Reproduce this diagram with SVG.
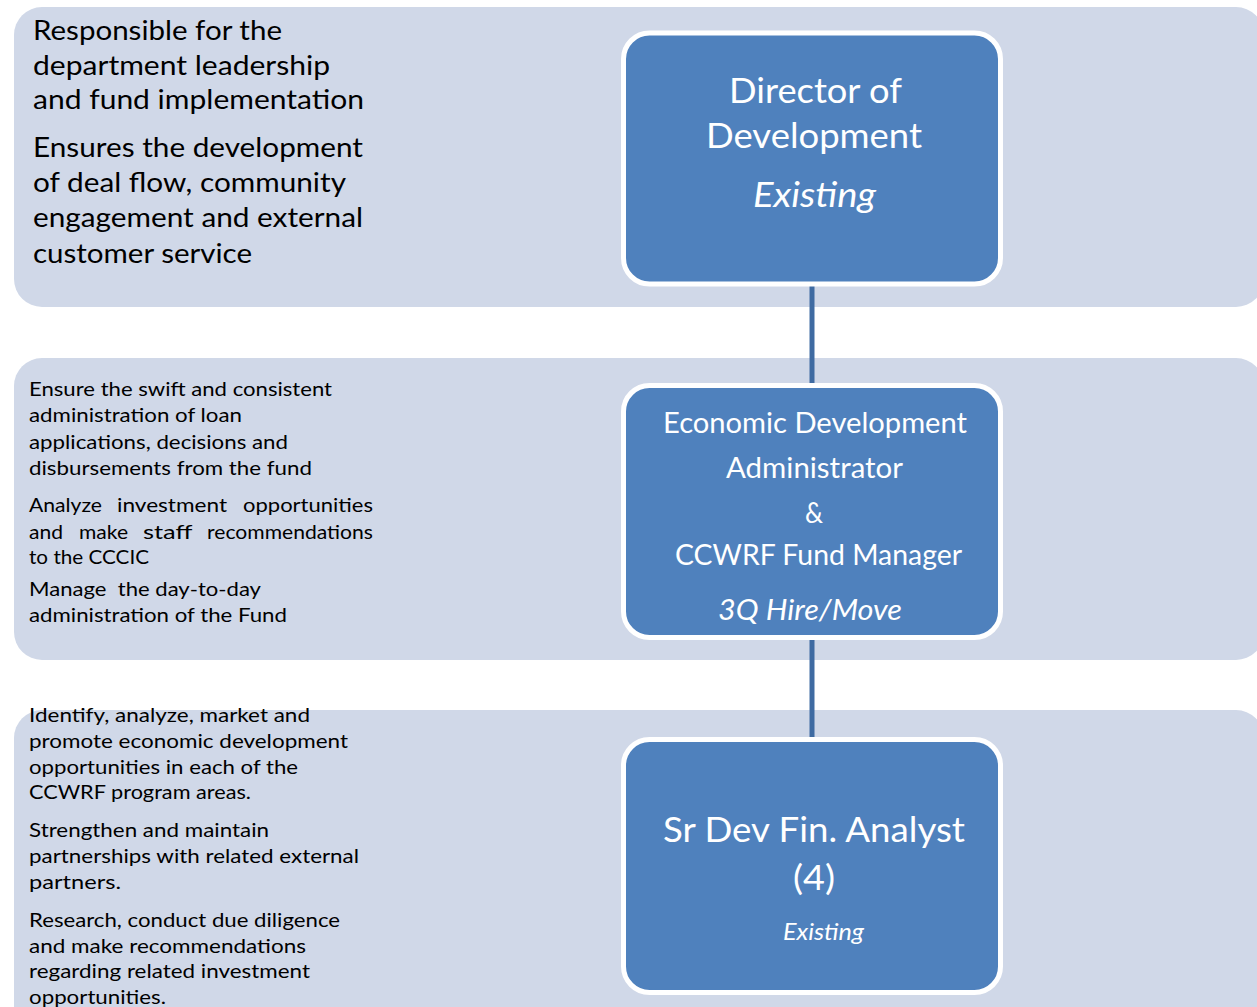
<svg xmlns="http://www.w3.org/2000/svg" width="1257" height="1007" viewBox="0 0 1257 1007">
<style>
.band{fill:#D0D8E8}
.box{fill:#4F81BD;stroke:#FFFFFF;stroke-width:5}
.conn{stroke:#3F6BA2;stroke-width:5;fill:none}
text{font-family:Lato,"Liberation Sans",sans-serif}
.d1{font-size:26px;fill:#000}
.d2{font-size:19px;fill:#000}
.w{fill:#FFFFFF;text-anchor:middle}
.big{font-size:35px}
.mid{font-size:28px}
.sm{font-size:23px}
.it{font-style:italic}
</style>
<rect class="band" x="14" y="7" width="1250" height="300" rx="28"/>
<rect class="band" x="14" y="358" width="1250" height="302" rx="28"/>
<rect class="band" x="14" y="710" width="1250" height="330" rx="28"/>
<g id="connectors">
<line class="conn" x1="812" y1="285" x2="812" y2="385"/>
<line class="conn" x1="812" y1="638" x2="812" y2="739"/>
</g>
<g id="desc1">
<text class="d1" x="33" y="40" textLength="249" lengthAdjust="spacingAndGlyphs">Responsible for the</text>
<text class="d1" x="33" y="75" textLength="297" lengthAdjust="spacingAndGlyphs">department leadership</text>
<text class="d1" x="33" y="109" textLength="331" lengthAdjust="spacingAndGlyphs">and fund implementation</text>
<text class="d1" x="33" y="157" textLength="330" lengthAdjust="spacingAndGlyphs">Ensures the development</text>
<text class="d1" x="33" y="192" textLength="313" lengthAdjust="spacingAndGlyphs">of deal flow, community</text>
<text class="d1" x="33" y="227" textLength="330" lengthAdjust="spacingAndGlyphs">engagement and external</text>
<text class="d1" x="33" y="263" textLength="219" lengthAdjust="spacingAndGlyphs">customer service</text>
</g>
<g id="desc2">
<text class="d2" x="29" y="396" textLength="303" lengthAdjust="spacingAndGlyphs">Ensure the swift and consistent</text>
<text class="d2" x="29" y="422" textLength="213" lengthAdjust="spacingAndGlyphs">administration of loan</text>
<text class="d2" x="29" y="449" textLength="259" lengthAdjust="spacingAndGlyphs">applications, decisions and</text>
<text class="d2" x="29" y="475" textLength="283" lengthAdjust="spacingAndGlyphs">disbursements from the fund</text>
<text class="d2" y="512"><tspan x="29" textLength="73" lengthAdjust="spacingAndGlyphs">Analyze</tspan> <tspan x="117" textLength="110" lengthAdjust="spacingAndGlyphs">investment</tspan> <tspan x="243" textLength="130" lengthAdjust="spacingAndGlyphs">opportunities</tspan></text>
<text class="d2" y="539"><tspan x="29" textLength="34" lengthAdjust="spacingAndGlyphs">and</tspan> <tspan x="79" textLength="49" lengthAdjust="spacingAndGlyphs">make</tspan> <tspan x="143" textLength="49" lengthAdjust="spacingAndGlyphs">staff</tspan> <tspan x="207" textLength="166" lengthAdjust="spacingAndGlyphs">recommendations</tspan></text>
<text class="d2" x="29" y="564" textLength="120" lengthAdjust="spacingAndGlyphs">to the CCCIC</text>
<text class="d2" x="29" y="596" textLength="232" lengthAdjust="spacingAndGlyphs" xml:space="preserve">Manage  the day-to-day</text>
<text class="d2" x="29" y="622" textLength="258" lengthAdjust="spacingAndGlyphs">administration of the Fund</text>
</g>
<g id="desc3">
<text class="d2" x="29" y="722" textLength="281" lengthAdjust="spacingAndGlyphs">Identify, analyze, market and</text>
<text class="d2" x="29" y="748" textLength="319" lengthAdjust="spacingAndGlyphs">promote economic development</text>
<text class="d2" x="29" y="774" textLength="269" lengthAdjust="spacingAndGlyphs">opportunities in each of the</text>
<text class="d2" x="29" y="799" textLength="222" lengthAdjust="spacingAndGlyphs">CCWRF program areas.</text>
<text class="d2" x="29" y="837" textLength="240" lengthAdjust="spacingAndGlyphs">Strengthen and maintain</text>
<text class="d2" x="29" y="863" textLength="330" lengthAdjust="spacingAndGlyphs">partnerships with related external</text>
<text class="d2" x="29" y="889" textLength="92" lengthAdjust="spacingAndGlyphs">partners.</text>
<text class="d2" x="29" y="927" textLength="311" lengthAdjust="spacingAndGlyphs">Research, conduct due diligence</text>
<text class="d2" x="29" y="953" textLength="277" lengthAdjust="spacingAndGlyphs">and make recommendations</text>
<text class="d2" x="29" y="978" textLength="281" lengthAdjust="spacingAndGlyphs">regarding related investment</text>
<text class="d2" x="29" y="1004" textLength="137" lengthAdjust="spacingAndGlyphs">opportunities.</text>
</g>
<g id="director">
<rect class="box" x="623.5" y="33" width="377" height="251" rx="26"/>
<text class="w big" x="815.5" y="103" textLength="173" lengthAdjust="spacingAndGlyphs">Director of</text>
<text class="w big" x="814" y="148" textLength="216" lengthAdjust="spacingAndGlyphs">Development</text>
<text class="w big it" x="814.5" y="207" textLength="123" lengthAdjust="spacingAndGlyphs">Existing</text>
</g>
<g id="administrator">
<rect class="box" x="623.5" y="385.5" width="377" height="252" rx="26"/>
<text class="w mid" x="815" y="433" textLength="304" lengthAdjust="spacingAndGlyphs">Economic Development</text>
<text class="w mid" x="814.5" y="478" textLength="177" lengthAdjust="spacingAndGlyphs">Administrator</text>
<text class="w mid" x="814" y="523" textLength="18" lengthAdjust="spacingAndGlyphs">&amp;</text>
<text class="w mid" x="818.5" y="565" textLength="287" lengthAdjust="spacingAndGlyphs">CCWRF Fund Manager</text>
<text class="w mid it" x="810" y="620" textLength="184" lengthAdjust="spacingAndGlyphs">3Q Hire/Move</text>
</g>
<g id="analyst">
<rect class="box" x="623.5" y="739.5" width="377" height="253" rx="26"/>
<text class="w big" x="814" y="842" textLength="302" lengthAdjust="spacingAndGlyphs">Sr Dev Fin. Analyst</text>
<text class="w big" x="814" y="890" textLength="42" lengthAdjust="spacingAndGlyphs">(4)</text>
<text class="w sm it" x="823.5" y="940" textLength="81" lengthAdjust="spacingAndGlyphs">Existing</text>
</g>
</svg>
